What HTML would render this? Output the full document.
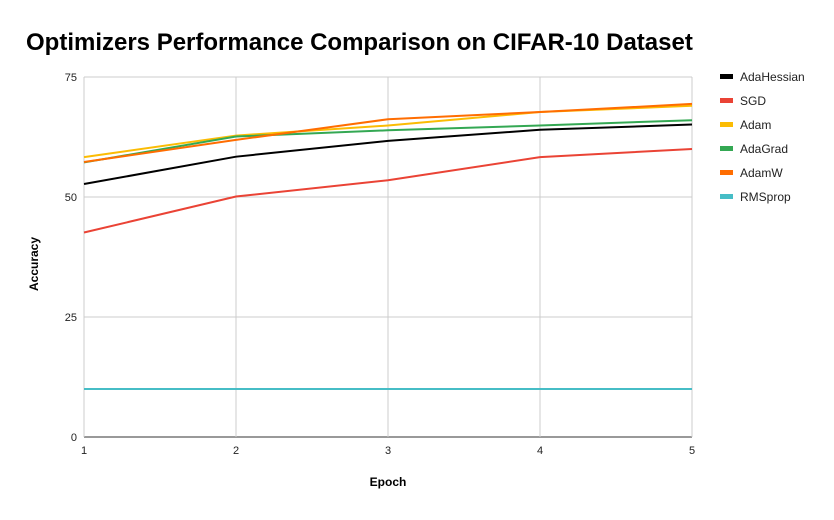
<!DOCTYPE html>
<html><head><meta charset="utf-8"><style>
body{margin:0;background:#fff;font-family:"Liberation Sans",Arial,sans-serif}
</style></head><body>
<svg id="chart" width="834" height="515" xmlns="http://www.w3.org/2000/svg">
<text x="26" y="50" font-size="24" font-weight="bold" fill="#000">Optimizers Performance Comparison on CIFAR-10 Dataset</text>
<g id="grid"></g><g id="lines"></g><g id="legend"></g>
<text x="388" y="486" font-size="12" font-weight="bold" text-anchor="middle">Epoch</text>
<text transform="translate(38,264) rotate(-90)" font-size="12" font-weight="bold" text-anchor="middle">Accuracy</text>
</svg>
<script>
const epochs=[1,2,3,4,5];
const yTicks=[0,25,50,75];
const names=["AdaHessian","SGD","Adam","AdaGrad","AdamW","RMSprop"];
const colors=["#000000","#ea4335","#fbbc04","#34a853","#ff6d01","#46bdc6"];
const adaHessian=[52.7,58.4,61.7,64.0,65.1];
const sgd=[42.6,50.1,53.5,58.3,60.0];
const adam=[58.3,62.8,64.9,67.7,69.0];
const adaGrad=[57.2,62.6,63.9,64.9,66.0];
const adamW=[57.3,61.9,66.2,67.7,69.4];
const rmsprop=[10.0,10.0,10.0,10.0,10.0];
const series=[adaHessian,sgd,adam,adaGrad,adamW,rmsprop];
const NS="http://www.w3.org/2000/svg";
const X=v=>84+(v-1)*(692-84)/4;
const Y=v=>437-v*(437-77)/75;
function mk(t,a,p){const e=document.createElementNS(NS,t);for(const k in a)e.setAttribute(k,a[k]);p.appendChild(e);return e;}
const g=document.getElementById('grid');
yTicks.forEach(t=>{
 const l=mk('line',{x1:84,x2:692,y1:Y(t),y2:Y(t),stroke:t===0?'#333':'#ccc','stroke-width':1},g);
 
 
 const tx=mk('text',{x:77,y:Y(t)+4,'font-size':11,'text-anchor':'end',fill:'#222'},g);tx.textContent=t;
 
 
});
epochs.forEach(e=>{
 const l=mk('line',{x1:X(e),x2:X(e),y1:77,y2:437,stroke:'#ccc','stroke-width':1},g);
 
 
 const tx=mk('text',{x:X(e),y:454,'font-size':11,'text-anchor':'middle',fill:'#222'},g);tx.textContent=e;
 
 
});
const lg=document.getElementById('lines');
series.forEach((s,i)=>{
 const p=mk('polyline',{points:s.map((v,j)=>X(epochs[j])+','+Y(v)).join(' '),fill:'none',stroke:colors[i],'stroke-width':2},lg);
 
 
});
const leg=document.getElementById('legend');
names.forEach((n,i)=>{
 const y=77+i*24;
 const r=mk('rect',{x:720,y:y-3,width:13,height:5,fill:colors[i]},leg);
 
 
 const t=mk('text',{x:740,y:y+4,'font-size':12,fill:'#222'},leg);t.textContent=n;
 
 
});
</script>
</body></html>
